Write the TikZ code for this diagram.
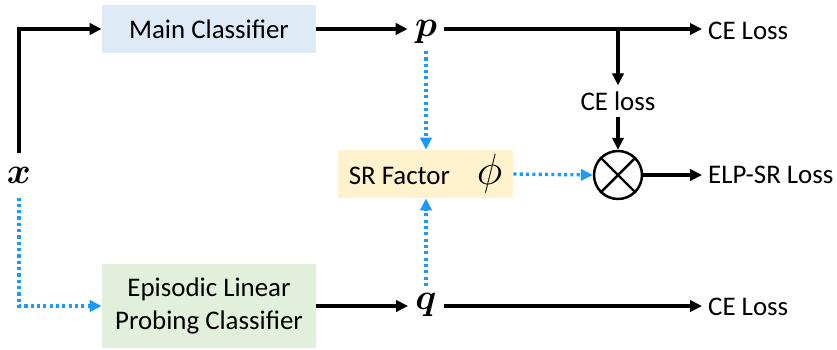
\documentclass[tikz,border=0pt]{standalone}
\usepackage{fontspec}
\setmainfont{Carlito}
\usepackage{bm}
\usetikzlibrary{positioning,arrows.meta,calc}
\definecolor{mainfill}{HTML}{DEEBF7}
\definecolor{elpfill}{HTML}{E2EFDA}
\definecolor{srfill}{HTML}{FFF2CC}
\definecolor{hintblue}{HTML}{1A9BFA}
\definecolor{ink}{HTML}{000000}

\tikzset{
  clsbox/.style={inner sep=0pt, minimum width=4.28cm, minimum height=0.96cm, align=center},
  mathlbl/.style={inner sep=4pt, font=\fontsize{21}{24}\selectfont},
  flow/.style={draw=ink, line width=1.9pt, -{Triangle[length=6.8pt,width=6.4pt]}},
  hint/.style={draw=hintblue, line width=1.9pt, dash pattern=on 1.8pt off 1.8pt, -{Triangle[length=6.8pt,width=6.4pt]}}
}

\begin{document}
\begin{tikzpicture}[x=0.02cm,y=-0.02cm,font=\fontsize{15.3}{18.4}\selectfont]
\useasboundingbox (0,0) rectangle (837,349);
% boxes
\node[clsbox, fill=mainfill] (main) at (209,29) {Main Classifier};
\node[clsbox, fill=elpfill, minimum height=1.68cm] (elp) at (209,306) {Episodic Linear\\Probing Classifier};
\node[clsbox, fill=srfill, minimum width=3.5cm] (sr) at (425.5,174) {SR Factor\quad{\fontsize{27}{27}\selectfont$\phi$}};
% symbols
\node[mathlbl, inner sep=8pt] (x) at (19,175) {$\bm{x}$};
\node[mathlbl] (p) at (426,32) {$\bm{p}$};
\node[mathlbl] (q) at (426,305) {$\bm{q}$};
\node[circle, draw=ink, line width=1.4pt, minimum size=0.96cm] (mul) at (618,175) {};
\draw[ink, line width=1.4pt] (mul.north west) -- (mul.south east) (mul.north east) -- (mul.south west);
% losses
\node[anchor=west] (ceP) at (702,31) {CE Loss};
\node[anchor=west] (ceQ) at (702,307) {CE Loss};
\node[anchor=west] (elpsr) at (702,175) {ELP-SR Loss};
\node (celoss) at (618,101) {CE loss};
\coordinate (split) at (mul |- main.east);

% black flow
\draw[flow] (x.north) |- (main.west);
\draw[flow] (main.east) -- (main.east -| p.west);
\draw[flow] (main.east -| p.east) -- (main.east -| ceP.west);
\draw[flow] (split) -- (celoss.north);
\draw[flow] (celoss.south) -- (mul.north);
\draw[flow] (mul.east) -- (elpsr.west);
\draw[flow] (elp.east) -- (elp.east -| q.west);
\draw[flow] (elp.east -| q.east) -- (elp.east -| ceQ.west);
% blue dotted
\draw[hint] (x.south) |- (elp.west);
\draw[hint] (p.south) -- (sr.north -| p.south);
\draw[hint] (q.north) -- (sr.south -| q.north);
\draw[hint] (sr.east) -- (mul.west);
\end{tikzpicture}
\end{document}
